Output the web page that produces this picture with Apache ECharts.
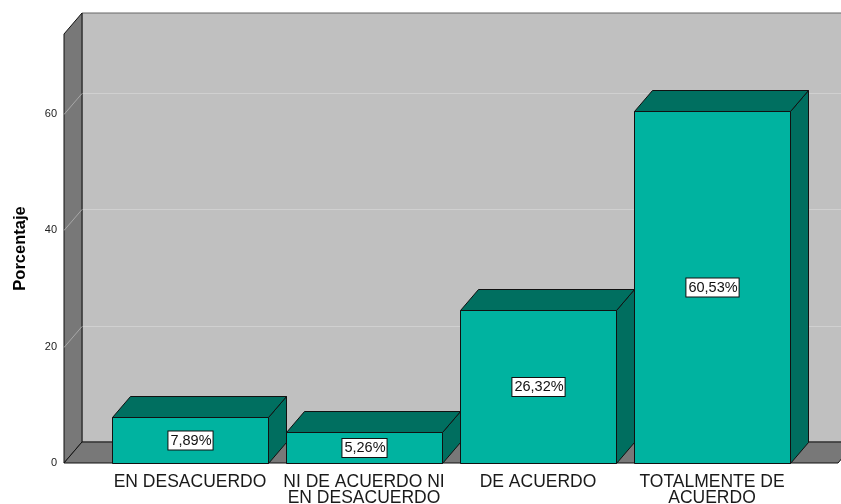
<!DOCTYPE html>
<html>
<head>
<meta charset="utf-8">
<script src="https://cdn.jsdelivr.net/npm/echarts@6/dist/echarts.min.js"></script>
<style>html,body{margin:0;padding:0;background:#fff;}#c{width:841px;height:504px;}</style>
</head>
<body>
<div id="c"></div>
<script>
const categories = ['EN DESACUERDO', 'NI DE ACUERDO NI\nEN DESACUERDO', 'DE ACUERDO', 'TOTALMENTE DE\nACUERDO'];
const values = [7.89, 5.26, 26.32, 60.53];
const yTicks = [0, 20, 40, 60];
const yName = 'Porcentaje';

const DX = 18, DY = 21, AXIS_OFFSET = 39;
const chart = echarts.init(document.getElementById('c'), null, {renderer: 'canvas'});

function fmt(v) { return v.toFixed(2).replace('.', ',') + '%'; }

function renderWalls(params, api) {
  const cs = params.coordSys;
  const fx = cs.x - AXIS_OFFSET;
  const top = cs.y, bot = cs.y + cs.height;
  const right = cs.x + cs.width + AXIS_OFFSET;
  const farR = right + DX + 40;
  const children = [];
  children.push({type: 'rect', shape: {x: fx + DX, y: top - DY, width: farR - fx - DX, height: bot - top}, style: {fill: '#c0c0c0', stroke: '#666', lineWidth: 1}});
  yTicks.forEach(function (t) {
    if (t === 0) return;
    const y = Math.round(api.coord([0, t])[1]) + 0.5;
    children.push({type: 'line', shape: {x1: fx + DX, y1: y - DY, x2: farR, y2: y - DY}, style: {stroke: '#d0d0d0', lineWidth: 1}});
  });
  children.push({type: 'polygon', shape: {points: [[fx, top], [fx + DX, top - DY], [fx + DX, bot - DY], [fx, bot]]}, style: {fill: '#787878', stroke: '#111', lineWidth: 1}});
  yTicks.forEach(function (t) {
    if (t === 0) return;
    const y = Math.round(api.coord([0, t])[1]) + 0.5;
    children.push({type: 'line', shape: {x1: fx, y1: y, x2: fx + DX, y2: y - DY}, style: {stroke: '#a8a8a8', lineWidth: 1}});
  });
  children.push({type: 'polygon', shape: {points: [[fx, bot], [fx + DX, bot - DY], [right + DX, bot - DY], [right, bot]]}, style: {fill: '#787878', stroke: '#111', lineWidth: 1}});
  return {type: 'group', children: children};
}

function renderBar(params, api) {
  const i = api.value(0), v = api.value(1);
  const p0 = api.coord([i, 0]);
  const p1 = api.coord([i, v]);
  const band = api.size([1, 0])[0];
  const w = band - DX;
  const x0 = Math.round(p0[0] - band / 2 + DX / 2) + 0.5;
  const yb = Math.round(p0[1]) + 0.5, yt = Math.round(p1[1]) + 0.5;
  const st = {stroke: '#111', lineWidth: 1};
  return {type: 'group', children: [
    {type: 'polygon', shape: {points: [[x0 + w, yt], [x0 + w + DX, yt - DY], [x0 + w + DX, yb - DY], [x0 + w, yb]]}, style: Object.assign({fill: '#006e5f'}, st)},
    {type: 'polygon', shape: {points: [[x0, yt], [x0 + DX, yt - DY], [x0 + w + DX, yt - DY], [x0 + w, yt]]}, style: Object.assign({fill: '#006f60'}, st)},
    {type: 'rect', shape: {x: x0, y: yt, width: w, height: yb - yt}, style: Object.assign({fill: '#00b3a0'}, st)},
    {type: 'text', x: x0 + w / 2, y: (yt + yb) / 2, style: {text: fmt(v), fontSize: 14.5, fontFamily: 'Liberation Sans, Arial, sans-serif', fill: '#111', align: 'center', verticalAlign: 'middle', backgroundColor: '#fff', borderColor: '#111', borderWidth: 1, padding: [2, 1, 1, 2]}}
  ]};
}

chart.setOption({
  animation: false,
  backgroundColor: '#fff',
  grid: {left: 103, right: 42, top: 34, bottom: 41, containLabel: false, outerBoundsMode: 'none'},
  xAxis: {
    type: 'category', data: categories,
    axisLine: {show: false}, axisTick: {show: false}, splitLine: {show: false},
    axisLabel: {margin: 11, fontSize: 17.5, lineHeight: 16, color: '#1a1a1a', fontFamily: 'Liberation Sans, Arial, sans-serif', interval: 0}
  },
  yAxis: {
    type: 'value', min: 0, max: 73.75, interval: 20, offset: AXIS_OFFSET,
    name: yName, nameLocation: 'middle', nameGap: 35, nameRotate: 90,
    nameTextStyle: {fontSize: 16.5, fontWeight: 'bold', color: '#000', fontFamily: 'Liberation Sans, Arial, sans-serif'},
    axisLine: {show: false}, axisTick: {show: false}, splitLine: {show: false},
    axisLabel: {margin: 7, fontSize: 11, color: '#222', showMaxLabel: false, fontFamily: 'Liberation Sans, Arial, sans-serif',
      formatter: function (v) { return yTicks.indexOf(v) >= 0 ? String(v) : ''; }}
  },
  series: [
    {type: 'custom', z: 1, renderItem: renderWalls, data: [[0, 0]], silent: true, clip: false},
    {type: 'custom', z: 2, renderItem: renderBar, data: values.map(function (v, i) { return [i, v]; }), clip: false}
  ]
});
</script>
</body>
</html>
